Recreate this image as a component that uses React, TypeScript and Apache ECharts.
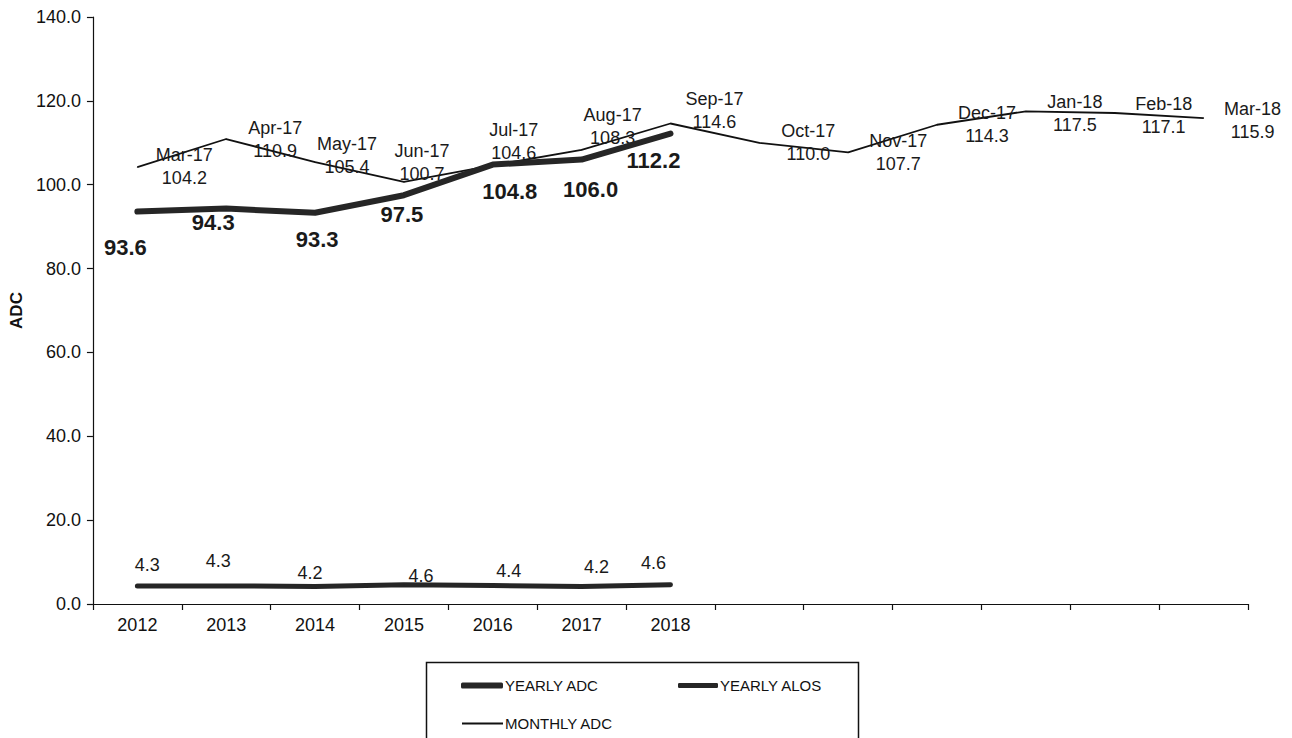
import React, { useEffect, useRef } from "react";
import * as echarts from "echarts";

const yearLabels = ["2012", "2013", "2014", "2015", "2016", "2017", "2018", "", "", "", "", "", ""];
const monthLabels = ["Mar-17", "Apr-17", "May-17", "Jun-17", "Jul-17", "Aug-17", "Sep-17", "Oct-17", "Nov-17", "Dec-17", "Jan-18", "Feb-18", "Mar-18"];
const yearlyADC = [93.6, 94.3, 93.3, 97.5, 104.8, 106.0, 112.2];
const yearlyALOS = [4.3, 4.3, 4.2, 4.6, 4.4, 4.2, 4.6];
const monthlyADC = [104.2, 110.9, 105.4, 100.7, 104.6, 108.3, 114.6, 110.0, 107.7, 114.3, 117.5, 117.1, 115.9];
const yTicks = { min: 0, max: 140, interval: 20 };

// label placement styles (offsets of label centre from its point, in px)
const monthlyLabelOffsets = [[47, -1], [49, 0], [32, -7], [18, -19], [21, -24], [31, -23], [44, -13], [49, 0], [50, 0], [50, 0], [49, 2], [49, 2], [49, 2]];
const adcLabelOffsets = [[-12, 36], [-13, 14], [2, 27], [-2, 19], [17, 27], [9, 30], [-17, 27]];
const alosLabelOffsets = [[10, -21], [-8, -25], [-5, -13], [17, -9], [16, -15], [15, -19], [-17, -22]];

const FONT = "Liberation Sans, Arial, sans-serif";

export default function App() {
  const ref = useRef<HTMLDivElement>(null);
  useEffect(() => {
    document.body.style.margin = "0";
    const chart = echarts.init(ref.current!, null, { renderer: "svg" });
    const mkData = (vals: number[], offs: number[][]) =>
      vals.map((v, i) => ({ value: v, label: { offset: offs[i] } }));
    const option: any = {
      animation: false,
      backgroundColor: "#ffffff",
      textStyle: { fontFamily: FONT },
      grid: { left: 78, right: 44, top: 17, bottom: 134, containLabel: false },
      xAxis: {
        type: "category",
        data: yearLabels,
        boundaryGap: true,
        axisLine: { lineStyle: { color: "#111", width: 1.2 } },
        axisTick: { show: true, length: 6, alignWithLabel: false, lineStyle: { color: "#111", width: 1.2 } },
        axisLabel: { color: "#111", fontSize: 18, fontFamily: FONT, margin: 12, interval: 0 },
        splitLine: { show: false },
      },
      yAxis: {
        type: "value",
        min: yTicks.min,
        max: yTicks.max,
        interval: yTicks.interval,
        name: "ADC",
        nameLocation: "middle",
        nameGap: 58,
        nameTextStyle: { fontWeight: "bold", fontSize: 17, color: "#111", fontFamily: FONT },
        axisLine: { show: true, lineStyle: { color: "#111", width: 1.2 } },
        axisTick: { show: true, length: 6, lineStyle: { color: "#111", width: 1.2 } },
        axisLabel: { color: "#111", fontSize: 18, fontFamily: FONT, margin: 12, formatter: (v: number) => v.toFixed(1) },
        splitLine: { show: false },
      },
      legend: [
        {
          left: 456, top: 673, itemWidth: 42, itemHeight: 6, itemGap: 0,
          data: [{ name: "YEARLY ADC", icon: "roundRect" }],
          textStyle: { fontSize: 15, color: "#111", fontFamily: FONT, padding: [0, 0, 0, -3] },
          selectedMode: false,
        },
        {
          left: 673, top: 673, itemWidth: 40, itemHeight: 5, itemGap: 0,
          data: [{ name: "YEARLY ALOS", icon: "roundRect" }],
          textStyle: { fontSize: 15, color: "#111", fontFamily: FONT, padding: [0, 0, 0, -3] },
          selectedMode: false,
        },
        {
          left: 457, top: 711, itemWidth: 41, itemHeight: 2, itemGap: 0,
          data: [{ name: "MONTHLY ADC", icon: "rect" }],
          textStyle: { fontSize: 15, color: "#111", fontFamily: FONT, padding: [0, 0, 0, -3] },
          selectedMode: false,
        },
      ],
      graphic: [
        {
          type: "rect",
          left: 424,
          top: 660,
          shape: { width: 432, height: 80 },
          style: { fill: "none", stroke: "#111", lineWidth: 1.5 },
          silent: true,
        },
      ],
      series: [
        {
          name: "MONTHLY ADC",
          type: "line",
          data: mkData(monthlyADC, monthlyLabelOffsets),
          symbol: "circle",
          symbolSize: 1,
          itemStyle: { color: "#111" },
          lineStyle: { color: "#111", width: 1.8 },
          z: 3,
          label: {
            show: true,
            position: "inside",
            align: "center",
            verticalAlign: "middle",
            fontSize: 18,
            lineHeight: 23,
            color: "#1a1a1a",
            fontFamily: FONT,
            formatter: (p: any) => `${monthLabels[p.dataIndex]}\n${Number(p.value).toFixed(1)}`,
          },
        },
        {
          name: "YEARLY ADC",
          type: "line",
          data: mkData(yearlyADC, adcLabelOffsets),
          symbol: "circle",
          symbolSize: 1,
          itemStyle: { color: "#262626" },
          lineStyle: { color: "#262626", width: 6, cap: "round", join: "round" },
          z: 4,
          label: {
            show: true,
            position: "inside",
            align: "center",
            verticalAlign: "middle",
            fontSize: 22,
            fontWeight: "bold",
            color: "#1a1a1a",
            fontFamily: FONT,
            formatter: (p: any) => Number(p.value).toFixed(1),
          },
        },
        {
          name: "YEARLY ALOS",
          type: "line",
          data: mkData(yearlyALOS, alosLabelOffsets),
          symbol: "circle",
          symbolSize: 1,
          itemStyle: { color: "#262626" },
          lineStyle: { color: "#262626", width: 5, cap: "round", join: "round" },
          z: 4,
          label: {
            show: true,
            position: "inside",
            align: "center",
            verticalAlign: "middle",
            fontSize: 18,
            color: "#1a1a1a",
            fontFamily: FONT,
            formatter: (p: any) => Number(p.value).toFixed(1),
          },
        },
      ],
    };
    chart.setOption(option);
    return () => chart.dispose();
  }, []);
  return <div ref={ref} style={{ position: "absolute", left: 0, top: 0, width: 1292, height: 738 }} />;
}
